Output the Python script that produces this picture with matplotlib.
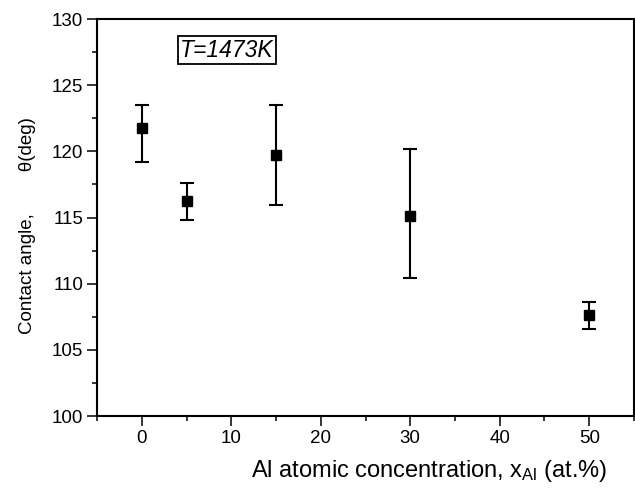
import matplotlib
matplotlib.use('Agg')
import matplotlib.pyplot as plt
from matplotlib.ticker import MultipleLocator

plt.rcParams['font.family'] = ['Liberation Sans', 'DejaVu Sans']
plt.rcParams['mathtext.default'] = 'regular'

# data
x_al = [0, 5, 15, 30, 50]
theta = [121.8, 116.25, 119.7, 115.1, 107.65]
theta_hi = [123.5, 117.65, 123.5, 120.2, 108.65]
theta_lo = [119.2, 114.85, 115.95, 110.4, 106.6]

err_lo = [t - lo for t, lo in zip(theta, theta_lo)]
err_hi = [hi - t for t, hi in zip(theta, theta_hi)]

fig = plt.figure(figsize=(6.35, 4.9), dpi=100)
ax = fig.add_axes([0.1528, 0.151, 0.8456, 0.810])

ax.errorbar(x_al, theta, yerr=[err_lo, err_hi], fmt='s', color='black',
            ms=6.5, elinewidth=1.5, capsize=4.8, capthick=1.5)

ax.set_xlim(-5, 55)
ax.set_ylim(100, 130)
ax.xaxis.set_major_locator(MultipleLocator(10))
ax.xaxis.set_minor_locator(MultipleLocator(5))
ax.yaxis.set_major_locator(MultipleLocator(5))
ax.yaxis.set_minor_locator(MultipleLocator(2.5))
ax.tick_params(which='major', direction='out', length=7, width=1.1,
               labelsize=13.5, pad=3)
ax.tick_params(which='minor', direction='out', length=3.5, width=1.1)
for s in ax.spines.values():
    s.set_linewidth(1.5)

ax.set_xlabel('Al atomic concentration, x$_{Al}$ (at.%)', fontsize=17)
ax.xaxis.set_label_coords(0.618, -0.105)
ax.set_ylabel('Contact angle,        \u03b8(deg)', fontsize=13.5)
ax.yaxis.set_label_coords(-0.114, 0.479)

ax.text(9.5, 127.65, 'T=1473K', fontsize=16.5, style='italic', ha='center',
        va='center', bbox=dict(boxstyle='square,pad=0.1', fc='white',
                               ec='black', lw=1.3))

fig.savefig('out.png', dpi=100)
